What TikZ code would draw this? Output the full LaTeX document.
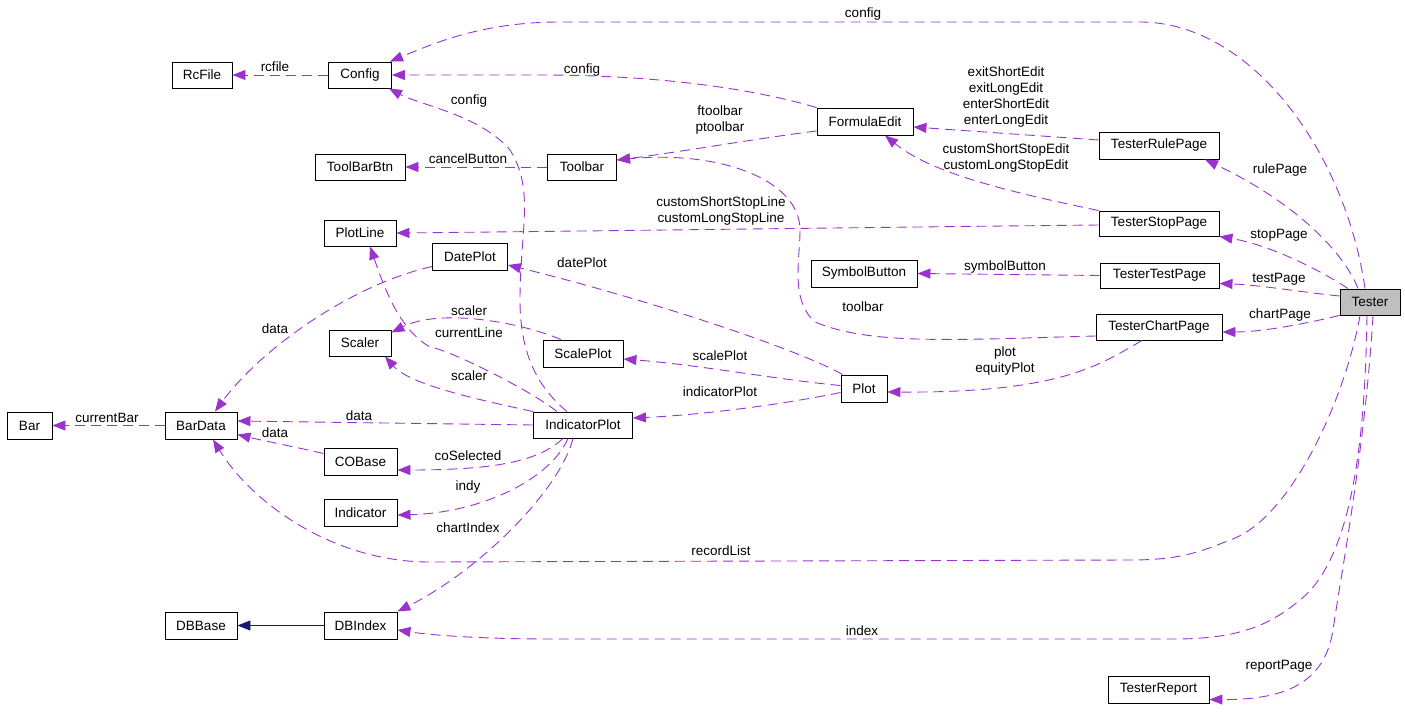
\documentclass[tikz,border=0pt]{standalone}
\usepackage{fontspec}
\setmainfont{Liberation Sans}
\usetikzlibrary{arrows.meta}
\definecolor{edgec}{HTML}{9A32CD}
\definecolor{inhc}{HTML}{191970}
\begin{document}
\begin{tikzpicture}[x=1pt,y=-1pt,
  cls/.style={draw=black, line width=0.9pt, inner sep=0pt, minimum height=26pt, font=\fontsize{13.5}{15}\selectfont, fill=white},
  rel/.style={draw=edgec, line width=0.9pt, dash pattern=on 10pt off 6pt, -{Triangle[length=13pt,width=10pt]}},
  inh/.style={draw=inhc, line width=0.9pt, -{Triangle[length=13pt,width=10pt]}},
  lbl/.style={font=\fontsize{13.5}{16}\selectfont, inner sep=0pt, align=center}]
\useasboundingbox (0,0) rectangle (1405,719);

% classes
\node[cls, minimum width=60pt] (RcFile) at (202,75) {RcFile};
\node[cls, minimum width=63pt] (Config) at (360,75) {Config};
\node[cls, minimum width=90pt] (ToolBarBtn) at (360,167) {ToolBarBtn};
\node[cls, minimum width=69pt] (Toolbar) at (582,167) {Toolbar};
\node[cls, minimum width=96pt, minimum height=27pt] (FormulaEdit) at (865,121.5) {FormulaEdit};
\node[cls, minimum width=72pt] (PlotLine) at (360,233) {PlotLine};
\node[cls, minimum width=75pt, minimum height=27pt] (DatePlot) at (470,256.5) {DatePlot};
\node[cls, minimum width=106pt, minimum height=27pt] (SymbolButton) at (864,273.5) {SymbolButton};
\node[cls, minimum width=62pt] (Scaler) at (360,343) {Scaler};
\node[cls, minimum width=80pt, minimum height=27pt] (ScalePlot) at (583,353.5) {ScalePlot};
\node[cls, minimum width=46pt, minimum height=27pt] (Plot) at (864,388.5) {Plot};
\node[cls, minimum width=99pt] (IndicatorPlot) at (583,425) {IndicatorPlot};
\node[cls, minimum width=45pt, minimum height=27pt] (Bar) at (29.5,425.5) {Bar};
\node[cls, minimum width=72pt, minimum height=27pt] (BarData) at (201,425.5) {BarData};
\node[cls, minimum width=73pt, minimum height=27pt] (COBase) at (360.5,461.5) {COBase};
\node[cls, minimum width=73pt, minimum height=27pt] (Indicator) at (360.5,512.5) {Indicator};
\node[cls, minimum width=72pt, minimum height=27pt] (DBBase) at (201,625.5) {DBBase};
\node[cls, minimum width=73pt, minimum height=27pt] (DBIndex) at (360.5,625.5) {DBIndex};
\node[cls, minimum width=101pt, minimum height=27pt] (TesterReport) at (1158.5,689.5) {TesterReport};
\node[cls, minimum width=120pt, minimum height=27pt] (TesterRulePage) at (1159,145.5) {TesterRulePage};
\node[cls, minimum width=120pt, minimum height=25pt] (TesterStopPage) at (1159,223.5) {TesterStopPage};
\node[cls, minimum width=119pt, minimum height=25pt] (TesterTestPage) at (1159.5,275.5) {TesterTestPage};
\node[cls, minimum width=126pt] (TesterChartPage) at (1159,327) {TesterChartPage};
\node[cls, minimum width=60pt, fill={rgb,255:red,191;green,191;blue,191}] (Tester) at (1370,302) {Tester};

% edges
\draw[rel] (Config.west) -- (RcFile.east);
\draw[rel] (FormulaEdit.north west) .. controls (740,85) and (640,75) .. (540,75) -- (Config.east);
\draw[rel] ([xshift=-5pt]Tester.north) .. controls (1345,150) and (1250,22) .. (1140,22) -- (560,22) .. controls (480,22) and (430,45) .. ([xshift=-2pt]Config.north east);
\draw[rel] ([xshift=-16pt]IndicatorPlot.north) .. controls (535,385) and (520,350) .. (520,300) .. controls (520,230) and (535,190) .. (510,150) .. controls (480,115) and (420,105) .. ([xshift=-3pt]Config.south east);
\draw[rel] (Toolbar.west) -- (ToolBarBtn.east);
\draw[rel] ([yshift=-9.5pt]FormulaEdit.west) .. controls (760,138) and (680,152) .. ([yshift=7pt]Toolbar.east);
\draw[rel] ([yshift=-9pt]TesterChartPage.west) .. controls (950,340) and (870,345) .. (815,322) .. controls (790,300) and (800,260) .. (800,230) .. controls (800,180) and (720,150) .. ([yshift=7pt]Toolbar.east);
\draw[rel] ([yshift=5.5pt]TesterRulePage.west) -- ([yshift=-5.5pt]FormulaEdit.east);
\draw[rel] (TesterStopPage.north west) .. controls (1000,190) and (930,172) .. ([xshift=20pt]FormulaEdit.south);
\draw[rel] ([yshift=-1.5pt]TesterStopPage.west) .. controls (900,227) and (600,231) .. (PlotLine.east);
\draw[rel] (TesterTestPage.west) -- (SymbolButton.east);
\draw[rel] ([xshift=-12pt]Tester.north) .. controls (1345,255) and (1300,205) .. ([xshift=46pt]TesterRulePage.south);
\draw[rel] ([xshift=-22pt]Tester.north) .. controls (1320,270) and (1270,245) .. (TesterStopPage.south east);
\draw[rel] ([yshift=6pt]Tester.west) .. controls (1300,292) and (1260,285) .. ([yshift=-8pt]TesterTestPage.east);
\draw[rel] (Tester.south west) .. controls (1300,325) and (1260,332) .. ([yshift=-5pt]TesterChartPage.east);
\draw[rel] ([xshift=-17pt]TesterChartPage.south) .. controls (1100,365) and (1060,393) .. ([yshift=-3.5pt]Plot.east);
\draw[rel] ([xshift=2pt]Plot.north west) .. controls (800,350) and (650,300) .. ([yshift=-8.5pt]DatePlot.east);
\draw[rel] ([yshift=3pt]Plot.west) .. controls (780,380) and (700,365) .. ([yshift=-5.5pt]ScalePlot.east);
\draw[rel] ([yshift=-4pt]Plot.west) .. controls (780,405) and (700,415) .. ([yshift=7pt]IndicatorPlot.east);
\draw[rel] ([xshift=-22pt]ScalePlot.north) .. controls (520,322) and (440,308) .. ([yshift=-3pt]Scaler.north east);
\draw[rel] ([xshift=-26pt]IndicatorPlot.north) .. controls (530,390) and (450,350) .. (430,347) .. controls (400,330) and (385,290) .. ([xshift=10pt]PlotLine.south);
\draw[rel] (IndicatorPlot.north west) .. controls (480,400) and (410,385) .. ([xshift=25pt]Scaler.south);
\draw[rel] (IndicatorPlot.west) -- ([yshift=4.5pt]BarData.east);
\draw[rel] ([xshift=-20pt]IndicatorPlot.south) .. controls (540,460) and (500,470) .. ([yshift=-8.5pt]COBase.east);
\draw[rel] ([xshift=-15pt]IndicatorPlot.south) .. controls (550,480) and (480,513) .. ([yshift=-2.5pt]Indicator.east);
\draw[rel] ([xshift=-10pt]IndicatorPlot.south) .. controls (560,490) and (480,570) .. (DBIndex.north east);
\draw[rel] ([yshift=8pt]COBase.west) .. controls (300,448) and (260,440) .. ([yshift=-9pt]BarData.east);
\draw[rel] ([yshift=-10pt]DatePlot.west) .. controls (350,285) and (260,350) .. ([xshift=14pt]BarData.north);
\draw[rel] (BarData.west) -- (Bar.east);
\draw[rel] ([xshift=-10pt]Tester.south) .. controls (1345,400) and (1290,520) .. (1230,540) .. controls (1200,552) and (1180,560) .. (1130,560) -- (430,562) .. controls (330,562) and (250,500) .. ([xshift=12pt]BarData.south);
\draw[inh] (DBIndex.west) -- (DBBase.east);
\draw[rel] ([xshift=-3pt]Tester.south) .. controls (1365,450) and (1350,560) .. (1300,600) .. controls (1270,625) and (1240,638) .. (1180,639) -- (550,639) .. controls (480,639) and (430,635) .. ([yshift=-4.5pt]DBIndex.east);
\draw[rel] ([xshift=3pt]Tester.south) .. controls (1365,450) and (1340,580) .. (1333,630) .. controls (1325,680) and (1290,700) .. ([yshift=-10pt]TesterReport.east);

% labels
\node[lbl] (l1) at (275,67) {rcfile};
\node[lbl] (l2) at (582,70) {config};
\node[lbl] (l3) at (863,14) {config};
\node[lbl] (l4) at (469,101) {config};
\node[lbl] (l5) at (468,159) {cancelButton};
\node[lbl] (l6) at (720,120) {ftoolbar\\ptoolbar};
\node[lbl] (l7) at (721,211.5) {customShortStopLine\\customLongStopLine};
\node[lbl] (l8) at (1006,97) {exitShortEdit\\exitLongEdit\\enterShortEdit\\enterLongEdit};
\node[lbl] (l9) at (1006,158.5) {customShortStopEdit\\customLongStopEdit};
\node[lbl] (l10) at (1280,170) {rulePage};
\node[lbl] (l11) at (1279,235) {stopPage};
\node[lbl] (l12) at (1005,267) {symbolButton};
\node[lbl] (l13) at (1279,279) {testPage};
\node[lbl] (l14) at (1280,315) {chartPage};
\node[lbl] (l15) at (1005,361.5) {plot\\equityPlot};
\node[lbl] (l16) at (863,307) {toolbar};
\node[lbl] (l17) at (582,263) {datePlot};
\node[lbl] (l18) at (720,356) {scalePlot};
\node[lbl] (l19) at (720,392) {indicatorPlot};
\node[lbl] (l20) at (469,311) {scaler};
\node[lbl] (l21) at (469,333) {currentLine};
\node[lbl] (l22) at (469,376) {scaler};
\node[lbl] (l23) at (359,416) {data};
\node[lbl] (l24) at (275,433) {data};
\node[lbl] (l25) at (275,329) {data};
\node[lbl] (l26) at (107,418) {currentBar};
\node[lbl] (l27) at (468,456) {coSelected};
\node[lbl] (l28) at (468,487) {indy};
\node[lbl] (l29) at (468,528) {chartIndex};
\node[lbl] (l30) at (721,551) {recordList};
\node[lbl] (l31) at (862,631) {index};
\node[lbl] (l32) at (1279,666) {reportPage};
\end{tikzpicture}
\end{document}
